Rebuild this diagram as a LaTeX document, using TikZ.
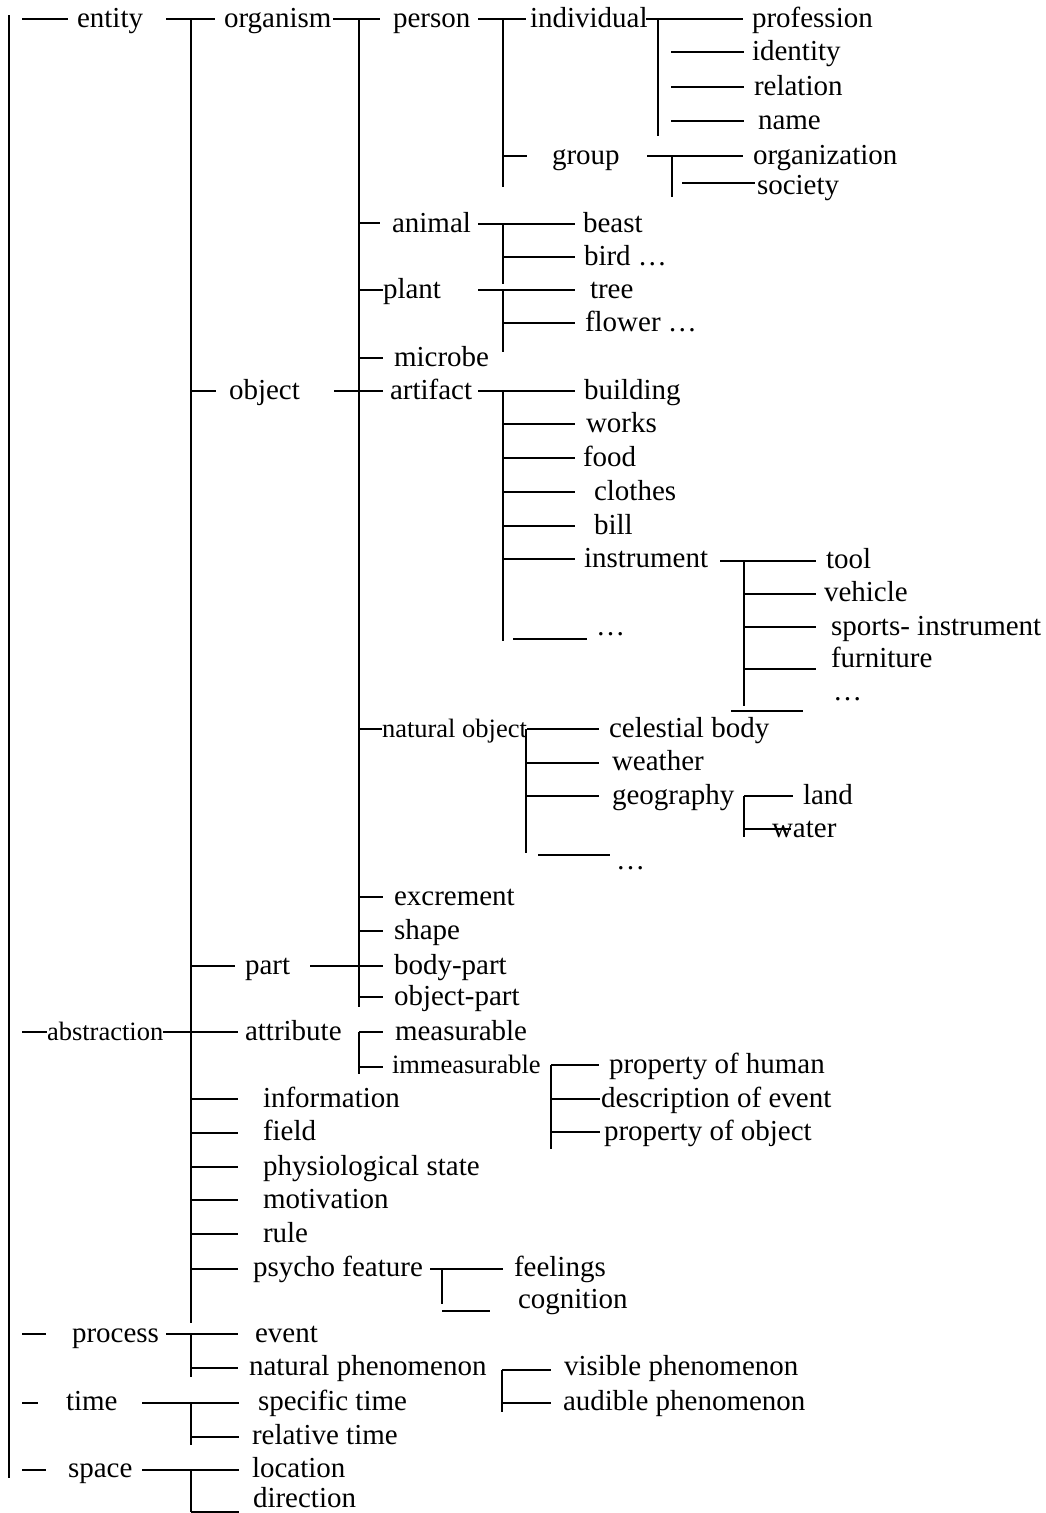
\documentclass[tikz,border=0pt]{standalone}
\usepackage{fontspec}
\setmainfont{Liberation Serif}
\begin{document}
\begin{tikzpicture}[x=1pt,y=-1pt,
  lbl/.style={anchor=base west,inner sep=0pt,outer sep=0pt,font=\fontsize{29}{29}\selectfont},
  sml/.style={anchor=base west,inner sep=0pt,outer sep=0pt,font=\fontsize{26.5}{26.5}\selectfont},
  ln/.style={line width=1.7pt},
  thk/.style={line width=2.6pt}]
\useasboundingbox[fill=white] (0,0) rectangle (1045,1513);

% ---------- text ----------
\node[lbl] (entity) at (77,27) {entity};
\node[lbl] (organism) at (224,27) {organism};
\node[lbl] (person) at (393,27) {person};
\node[lbl] (individual) at (530,27) {individual};
\node[lbl] (profession) at (752,27) {profession};
\node[lbl] (identity) at (752,60) {identity};
\node[lbl] (relation) at (754,95) {relation};
\node[lbl] (name) at (758,129) {name};
\node[lbl] (group) at (552,164) {group};
\node[lbl] (organization) at (753,164) {organization};
\node[lbl] (society) at (757,194) {society};
\node[lbl] (animal) at (392,232) {animal};
\node[lbl] (beast) at (583,232) {beast};
\node[lbl] (bird) at (584,265) {bird …};
\node[lbl] (plant) at (383,298) {plant};
\node[lbl] (tree) at (590,298) {tree};
\node[lbl] (flower) at (585,331) {flower …};
\node[lbl] (microbe) at (394,366) {microbe};
\node[lbl] (object) at (229,399) {object};
\node[lbl] (artifact) at (390,399) {artifact};
\node[lbl] (building) at (584,399) {building};
\node[lbl] (works) at (586,432) {works};
\node[lbl] (food) at (583,466) {food};
\node[lbl] (clothes) at (594,500) {clothes};
\node[lbl] (bill) at (594,534) {bill};
\node[lbl] (instrument) at (584,567) {instrument};
\node[lbl] (tool) at (826,568) {tool};
\node[lbl] (vehicle) at (824,601) {vehicle};
\node[lbl] (sports) at (831,635) {sports- instrument};
\node[lbl] (furniture) at (831,667) {furniture};
\node[lbl] (instdots) at (833,700) {…};
\node[lbl] (artdots) at (596,635) {…};
\node[sml] (natobj) at (382,737) {natural object};
\node[lbl] (celestial) at (609,737) {celestial body};
\node[lbl] (weather) at (612,770) {weather};
\node[lbl] (geography) at (612,804) {geography};
\node[lbl] (land) at (803,804) {land};
\node[lbl] (water) at (772,837) {water};
\node[lbl] (natdots) at (616,869) {…};
\node[lbl] (excrement) at (394,905) {excrement};
\node[lbl] (shape) at (394,939) {shape};
\node[lbl] (part) at (245,974) {part};
\node[lbl] (bodypart) at (394,974) {body-part};
\node[lbl] (objectpart) at (394,1005) {object-part};
\node[sml] (abstraction) at (47,1040) {abstraction};
\node[lbl] (attribute) at (245,1040) {attribute};
\node[lbl] (measurable) at (395,1040) {measurable};
\node[sml] (immeasurable) at (392,1073) {immeasurable};
\node[lbl] (prophuman) at (609,1073) {property of human};
\node[lbl] (descevent) at (601,1107) {description of event};
\node[lbl] (propobject) at (604,1140) {property of object};
\node[lbl] (information) at (263,1107) {information};
\node[lbl] (field) at (263,1140) {field};
\node[lbl] (physio) at (263,1175) {physiological state};
\node[lbl] (motivation) at (263,1208) {motivation};
\node[lbl] (rule) at (263,1242) {rule};
\node[lbl] (psycho) at (253,1276) {psycho feature};
\node[lbl] (feelings) at (514,1276) {feelings};
\node[lbl] (cognition) at (518,1308) {cognition};
\node[lbl] (process) at (72,1342) {process};
\node[lbl] (event) at (255,1342) {event};
\node[lbl] (natphen) at (249,1375) {natural phenomenon};
\node[lbl] (visible) at (564,1375) {visible phenomenon};
\node[lbl] (audible) at (563,1410) {audible phenomenon};
\node[lbl] (time) at (66,1410) {time};
\node[lbl] (spectime) at (258,1410) {specific time};
\node[lbl] (reltime) at (252,1444) {relative time};
\node[lbl] (space) at (68,1477) {space};
\node[lbl] (location) at (252,1477) {location};
\node[lbl] (direction) at (253,1507) {direction};

% ---------- lines ----------
\draw[ln] (9,15) -- (9,1478);
\draw[ln] (22,19) -- (68,19);
\draw[ln] (166,19) -- (215,19);
\draw[ln] (191,19) -- (191,1323);
\draw[ln] (333,19) -- (380,19);
\draw[ln] (359,19) -- (359,1007);
\draw[ln] (478,19) -- (526,19);
\draw[ln] (646,19) -- (743,19);
\draw[ln] (503,19) -- (503,187);
\draw[ln] (503,156) -- (527,156);
\draw[ln] (647,156) -- (743,156);
\draw[ln] (672,156) -- (672,197);
\draw[ln] (682,183) -- (755,183);
\draw[ln] (658,19) -- (658,136);
\draw[ln] (671,52) -- (744,52);
\draw[ln] (671,87) -- (744,87);
\draw[ln] (671,121) -- (744,121);
% animal / plant / microbe
\draw[ln] (359,223) -- (380,223);
\draw[ln] (478,224) -- (575,224);
\draw[ln] (503,224) -- (503,284);
\draw[thk] (503,257) -- (575,257);
\draw[ln] (359,290) -- (383,290);
\draw[ln] (478,290) -- (575,290);
\draw[ln] (503,290) -- (503,352);
\draw[ln] (503,323) -- (575,323);
\draw[ln] (359,358) -- (383,358);
% object / artifact
\draw[ln] (191,391) -- (216,391);
\draw[ln] (334,391) -- (383,391);
\draw[ln] (478,391) -- (575,391);
\draw[ln] (503,391) -- (503,641);
\draw[ln] (503,424) -- (575,424);
\draw[thk] (503,458) -- (575,458);
\draw[ln] (503,492) -- (575,492);
\draw[ln] (503,526) -- (575,526);
\draw[ln] (503,559) -- (575,559);
\draw[ln] (513,639) -- (587,639);
% instrument
\draw[ln] (720,561) -- (816,561);
\draw[ln] (744,561) -- (744,706);
\draw[ln] (744,594) -- (816,594);
\draw[ln] (744,627) -- (816,627);
\draw[ln] (744,669) -- (816,669);
\draw[ln] (731,711) -- (803,711);
% natural object
\draw[ln] (359,729) -- (382,729);
\draw[ln] (527,729) -- (599,729);
\draw[ln] (526,729) -- (526,853);
\draw[ln] (526,763) -- (599,763);
\draw[ln] (526,796) -- (599,796);
\draw[ln] (538,855) -- (610,855);
\draw[ln] (744,796) -- (744,837);
\draw[ln] (744,796) -- (793,796);
\draw[ln] (744,829) -- (791,829);
% excrement, shape, part
\draw[ln] (359,897) -- (383,897);
\draw[ln] (359,931) -- (383,931);
\draw[ln] (191,966) -- (235,966);
\draw[ln] (310,966) -- (383,966);
\draw[ln] (359,997) -- (383,997);
% abstraction
\draw[ln] (22,1032) -- (47,1032);
\draw[ln] (163,1032) -- (238,1032);
\draw[ln] (359,1032) -- (359,1074);
\draw[ln] (359,1032) -- (383,1032);
\draw[ln] (359,1067) -- (383,1067);
\draw[ln] (551,1065) -- (551,1149);
\draw[ln] (551,1065) -- (599,1065);
\draw[ln] (551,1099) -- (600,1099);
\draw[ln] (551,1132) -- (600,1132);
\draw[ln] (191,1099) -- (238,1099);
\draw[ln] (191,1133) -- (238,1133);
\draw[ln] (191,1167) -- (238,1167);
\draw[ln] (191,1200) -- (238,1200);
\draw[ln] (191,1234) -- (238,1234);
\draw[ln] (191,1269) -- (238,1269);
\draw[ln] (430,1269) -- (503,1269);
\draw[ln] (442,1269) -- (442,1304);
\draw[ln] (442,1311) -- (490,1311);
% process
\draw[ln] (22,1334) -- (46,1334);
\draw[ln] (166,1334) -- (238,1334);
\draw[ln] (191,1334) -- (191,1377);
\draw[ln] (191,1368) -- (238,1368);
\draw[ln] (502,1370) -- (502,1412);
\draw[ln] (502,1370) -- (551,1370);
\draw[ln] (502,1403) -- (551,1403);
% time
\draw[ln] (22,1403) -- (38,1403);
\draw[ln] (142,1403) -- (239,1403);
\draw[ln] (191,1403) -- (191,1445);
\draw[ln] (191,1437) -- (239,1437);
% space
\draw[ln] (22,1470) -- (46,1470);
\draw[ln] (142,1470) -- (239,1470);
\draw[ln] (191,1470) -- (191,1512);
\draw[ln] (191,1512) -- (239,1512);
\end{tikzpicture}
\end{document}
